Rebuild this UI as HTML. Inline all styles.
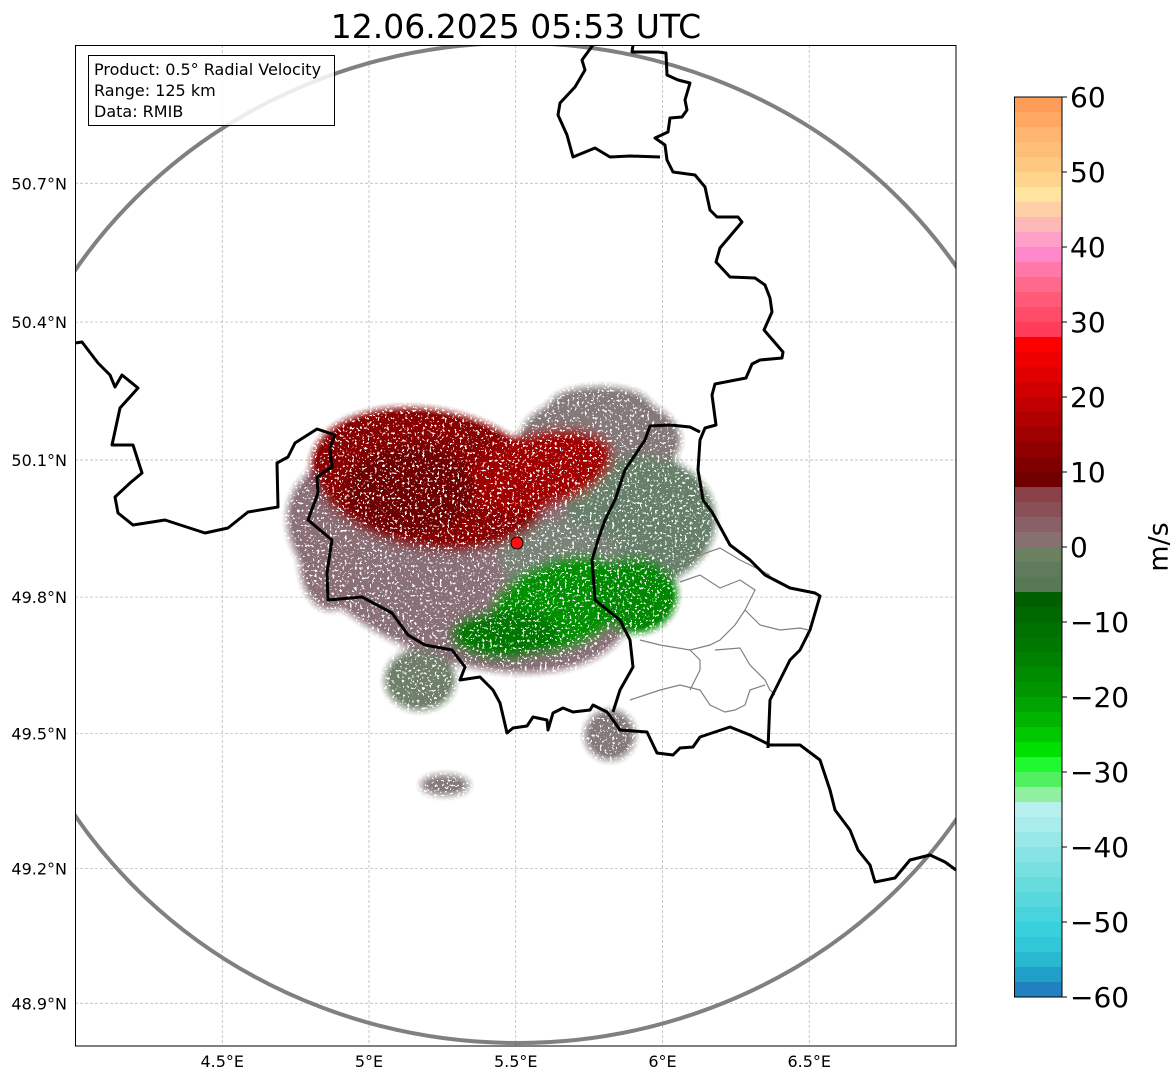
<!DOCTYPE html>
<html><head><meta charset="utf-8"><style>
html,body{margin:0;padding:0;background:#fff;}
svg{display:block;font-family:"DejaVu Sans","Liberation Sans",sans-serif;}
</style></head><body>
<svg width="1171" height="1081" viewBox="0 0 1171 1081">
<defs>
<clipPath id="plotclip"><rect x="75" y="45" width="881" height="1001"/></clipPath>
<filter id="speckle" x="0" y="0" width="100%" height="100%" filterUnits="userSpaceOnUse">
<feTurbulence type="fractalNoise" baseFrequency="0.4" numOctaves="2" seed="4" result="n"/>
<feColorMatrix in="n" type="matrix" values="0 0 0 0 0  0 0 0 0 0  0 0 0 0 0  0 0 0 -3.2 2.55" result="m"/>
<feComponentTransfer in="m" result="mt"><feFuncA type="discrete" tableValues="0 1"/></feComponentTransfer>
<feGaussianBlur in="SourceGraphic" stdDeviation="5" result="b"/>
<feComponentTransfer in="b" result="b2"><feFuncA type="linear" slope="1.3" intercept="-0.1"/></feComponentTransfer>
<feComposite in="b2" in2="mt" operator="in"/>
</filter>
</defs>

<text x="516" y="38" text-anchor="middle" font-size="33" fill="#000">12.06.2025 05:53 UTC</text>

<g clip-path="url(#plotclip)">
  <g id="grid"></g>
  <ellipse cx="517" cy="543" rx="527" ry="500" fill="none" stroke="#808080" stroke-width="4"/>
  <g filter="url(#speckle)">
    <ellipse cx="460" cy="560" rx="180" ry="100" fill="#8a7078" transform="rotate(20 460 560)"/>
    <ellipse cx="330" cy="560" rx="30" ry="50" fill="#8a7075"/>
    <ellipse cx="600" cy="440" rx="80" ry="45" fill="#857878"/>
    <ellipse cx="640" cy="520" rx="75" ry="65" fill="#68806a"/>
    <ellipse cx="560" cy="560" rx="60" ry="40" fill="#7a8378"/>
    <ellipse cx="430" cy="480" rx="120" ry="70" fill="#880505" transform="rotate(10 430 480)"/>
    <ellipse cx="540" cy="470" rx="75" ry="38" fill="#a00000" transform="rotate(-15 540 470)"/>
    <ellipse cx="410" cy="490" rx="65" ry="45" fill="#700000"/>
    <ellipse cx="560" cy="605" rx="75" ry="45" fill="#009000" transform="rotate(-20 560 605)"/>
    <ellipse cx="505" cy="635" rx="55" ry="25" fill="#007800"/>
    <ellipse cx="635" cy="595" rx="42" ry="38" fill="#008800"/>
    <ellipse cx="600" cy="405" rx="50" ry="18" fill="#857a7a"/>
    <ellipse cx="420" cy="680" rx="35" ry="30" fill="#6f7f6a"/>
    <ellipse cx="610" cy="735" rx="25" ry="25" fill="#857a7a"/>
    <ellipse cx="445" cy="785" rx="25" ry="10" fill="#857a7a"/>
  </g>
  <g fill="none" stroke="#808080" stroke-width="1.2">
    <polyline points="660,565 700,555 720,548 740,560 770,575"/>
    <polyline points="680,582 700,575 720,588 740,580 755,590 745,610 760,625 780,630 800,628 808,630"/>
    <polyline points="640,640 660,645 690,650 710,645 720,640 735,625 745,610"/>
    <polyline points="715,650 740,648 750,665 765,680 770,690 775,695"/>
    <polyline points="630,700 660,690 680,685 700,690 710,705 725,712 735,710 745,705 750,690 765,685"/>
    <polyline points="690,650 700,660 700,670 690,690"/>
  </g>
  <g fill="none" stroke="#000" stroke-width="3" stroke-linejoin="round">
    <polyline points="75,343 82,342 98,363 110,375 115,387 122,375 138,388 120,408 112,445 133,445 142,473 130,483 115,497 118,513 133,525 165,520 205,533 228,528 248,512 278,507 277,463 288,457 295,443 317,429 335,435 330,448 332,467 317,477 318,493 308,520 332,540 327,573 328,600 362,597 392,613 408,635 425,645 452,650 465,667 460,680 480,677 493,690 500,703 507,733 513,728 527,726 533,717 547,720 548,730 553,713 563,708 573,712 590,710 593,705 607,712 613,720 620,730 647,732 657,753 673,755 680,748 693,747 700,737 730,727 750,735 770,745 800,745 820,760 830,790 835,810 850,830 858,850 870,865 875,882 895,878 910,860 930,855 945,862 956,870"/>
    <polyline points="593,45 582,60 585,70 575,87 560,103 558,115 567,135 573,157 595,148 610,157 630,156 660,157"/>
    <polyline points="633,45 632,52 658,52 666,53 667,75 678,80 690,83 685,100 687,110 682,117 670,118 668,132 655,138 665,145 667,160 673,172 695,175 705,187 710,210 717,217 738,217 742,222 720,248 716,262 730,277 755,278 765,285 770,298 772,312 764,330 783,352 782,358 760,360 752,364 746,378 715,384 712,395 716,425 705,428 700,440 698,470 703,500 712,512 730,545 750,560 765,575 790,588 815,593 820,596 810,630 800,650 790,660 775,690 770,700 768,748"/>
    <polyline points="700,432 690,427 670,425 650,426 645,440 635,455 625,470 615,500 605,520 598,540 592,560 595,600 620,620 630,640 633,667 620,690 613,712"/>
  </g>
  <circle cx="517" cy="543" r="6" fill="#ff1010" stroke="#000" stroke-width="1"/>
  <g>
    <rect x="88.5" y="55.5" width="246" height="70" fill="rgba(255,255,255,0.85)" stroke="#000" stroke-width="1"/>
    <text x="94" y="75" font-size="16" fill="#000">Product: 0.5° Radial Velocity</text>
    <text x="94" y="96" font-size="16" fill="#000">Range: 125 km</text>
    <text x="94" y="117" font-size="16" fill="#000">Data: RMIB</text>
  </g>
</g>
<rect x="75.5" y="45.5" width="880.5" height="1000.5" fill="none" stroke="#000" stroke-width="1"/>
<g id="axes" font-size="16" fill="#000"></g>
<g id="cbar"></g>
<text x="1160" y="547" font-size="27" text-anchor="middle" transform="rotate(-90 1160 547)" dominant-baseline="middle">m/s</text>

<script>
const lonTicks = [4.5, 5, 5.5, 6, 6.5];
const latTicks = [48.9, 49.2, 49.5, 49.8, 50.1, 50.4, 50.7];
const cbarTicks = [60, 50, 40, 30, 20, 10, 0, -10, -20, -30, -40, -50, -60];
const cbarColors = ["#ff9c58","#ffa862","#ffb470","#ffbe78","#ffc880","#ffd48c","#ffe4a0","#ffd0a8","#ffb8b8","#ffa0c8","#ff88cc","#ff78a8","#ff6a8c","#ff5a78","#ff4c68","#ff3c5a",
"#ff0000","#ee0000","#e00000","#d00000","#c00000","#b00000","#a00000","#900000","#800000","#700000",
"#8a4048","#8a5058","#8a6068","#887070","#6a8060","#5f7a5c","#577a55","#006000",
"#006800","#007000","#007800","#008200","#008c00","#009600","#00a400","#00b400","#00c800","#00e000","#20f830","#50f060","#90f0a0",
"#b8f0f0","#a8ecec","#98e8e8","#88e4e4","#78e0e0","#68dcdc","#58d8dc","#48d4dc","#38d0dc","#30c8d8","#28b8d0","#20a0c8","#2080c0"];
const NS="http://www.w3.org/2000/svg";
function xLon(l){return 369+(l-5)*293.5;}
function merc(l){return Math.log(Math.tan(Math.PI/4+l*Math.PI/360))*180/Math.PI;}
function yLat(l){return 460-(merc(l)-merc(50.1))*294;}
function yV(v){return 547-v*7.5;}
function mk(t,a,p){const e=document.createElementNS(NS,t);for(const k in a)e.setAttribute(k,a[k]);p.appendChild(e);return e;}
const grid=document.getElementById('grid'),axes=document.getElementById('axes'),cb=document.getElementById('cbar');
lonTicks.forEach(l=>{const x=xLon(l);
 const g=mk('line',{x1:x,x2:x,y1:45,y2:1046,stroke:'#b0b0b0','stroke-width':0.7,'stroke-dasharray':'3,2'},grid);
 
 
 const t=mk('text',{x:x,y:1067,'text-anchor':'middle'},axes);t.textContent=l+'°E';
 
 });
latTicks.forEach(l=>{const y=yLat(l);
 const g=mk('line',{x1:75,x2:956,y1:y,y2:y,stroke:'#b0b0b0','stroke-width':0.7,'stroke-dasharray':'3,2'},grid);
 
 
 const t=mk('text',{x:67,y:y+6,'text-anchor':'end'},axes);t.textContent=l.toFixed(1)+'°N';
 
 });
cbarColors.forEach((c,i)=>{const v=60-i*2;
 const r=mk('rect',{x:1014,y:yV(v),width:48,height:yV(v-2)-yV(v)+0.5,fill:c},cb);
 
 });
mk('rect',{x:1014.5,y:yV(60),width:47.5,height:yV(-60)-yV(60),fill:'none',stroke:'#000','stroke-width':1},cb);
cbarTicks.forEach(v=>{const y=yV(v);
 mk('line',{x1:1062,x2:1067,y1:y,y2:y,stroke:'#000','stroke-width':1},cb);
 const t=mk('text',{x:1070,y:y+10,'font-size':28},cb);t.textContent=(v<0?'\u2212'+(-v):v);
 
 });
</script>
</svg>
</body></html>
